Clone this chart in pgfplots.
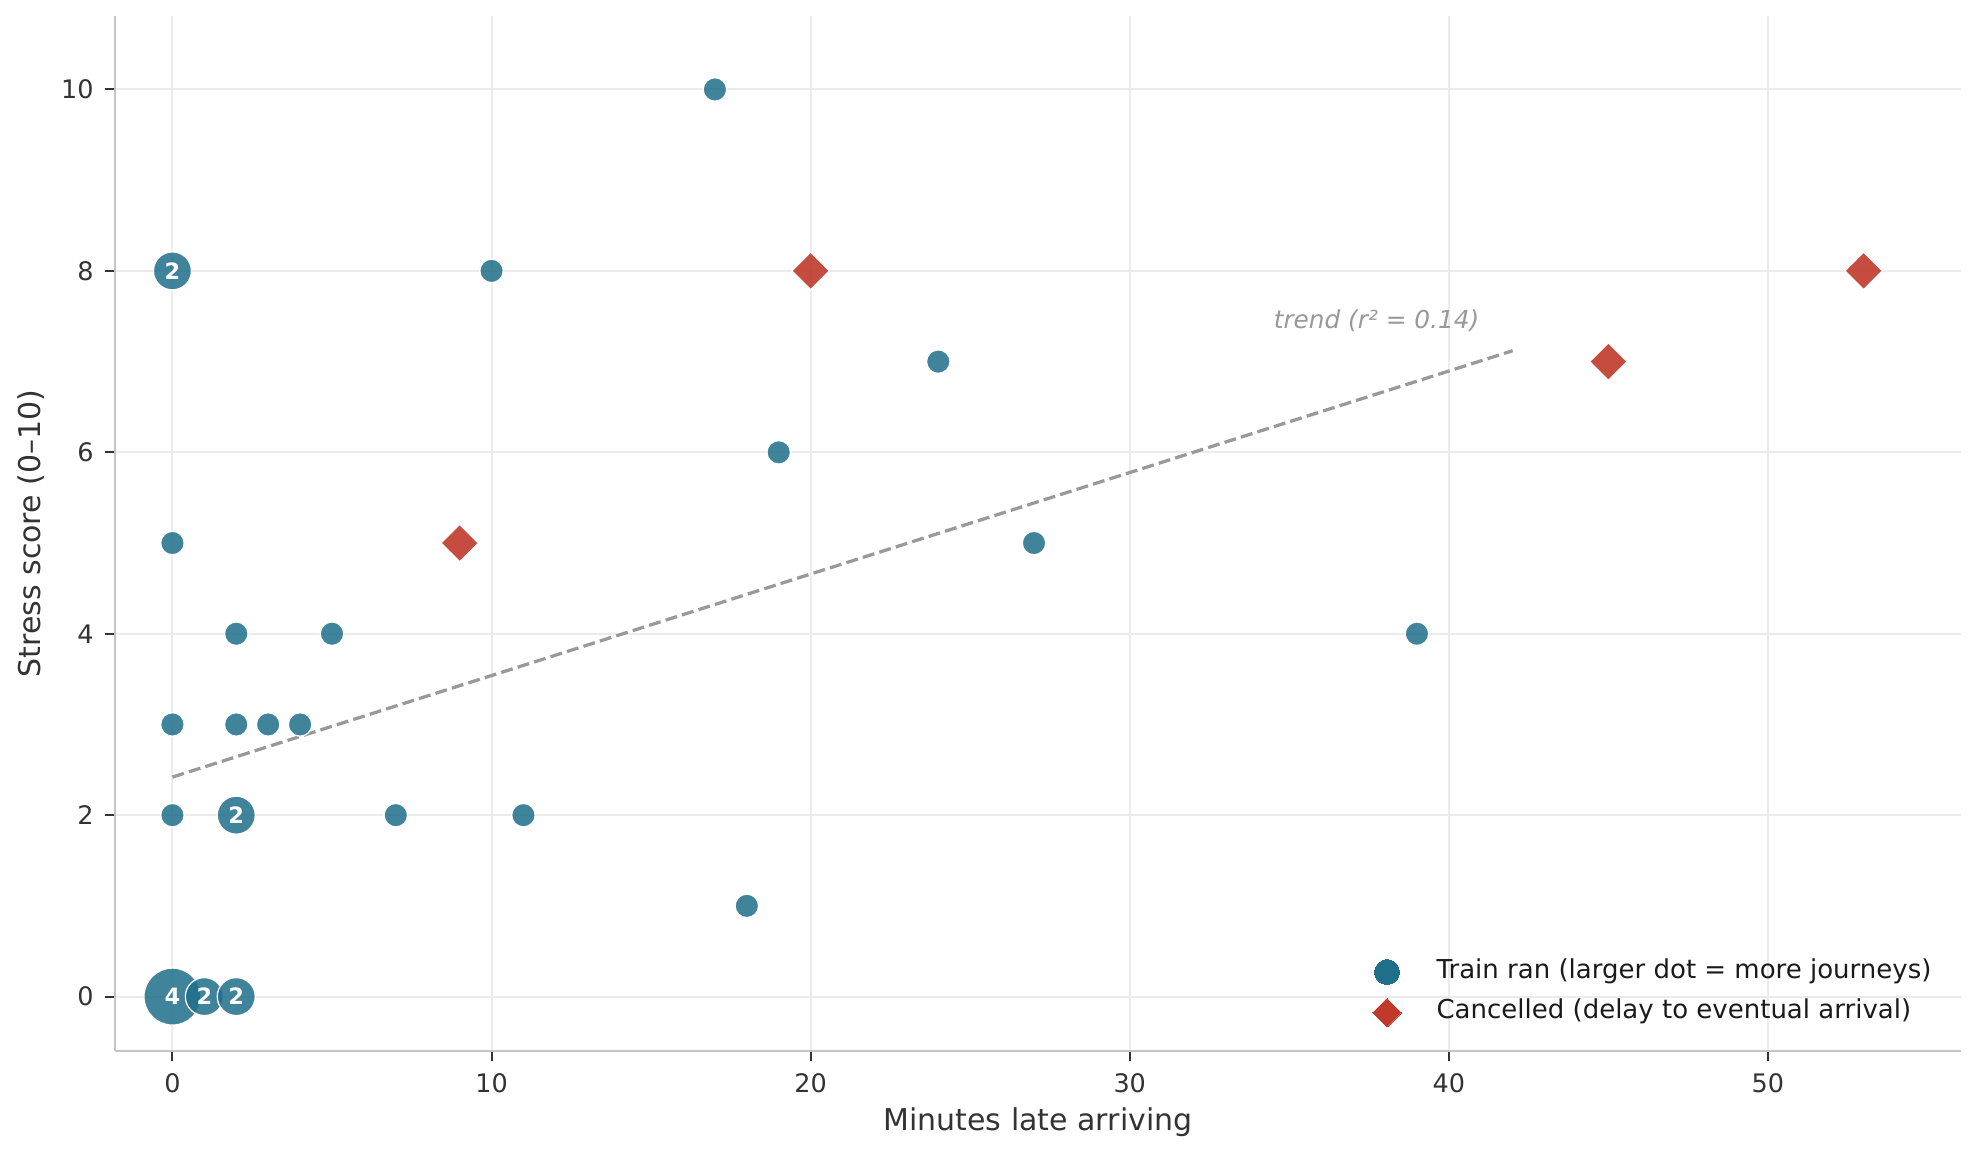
\documentclass[border=0pt]{standalone}
\usepackage{fontspec}
\setmainfont{DejaVu Sans}
\usepackage{pgfplots}
\pgfplotsset{compat=1.18}
\definecolor{trainblue}{HTML}{1F6F8B}
\definecolor{cancred}{HTML}{C0392B}
\definecolor{gridgray}{HTML}{EBEBEB}
\definecolor{spinegray}{HTML}{C4C4C4}
\definecolor{txtgray}{HTML}{333333}
\definecolor{trendgray}{HTML}{999999}
\definecolor{legtxt}{HTML}{1A1A1A}

\begin{document}
\begin{tikzpicture}
\begin{axis}[
  at={(46pt,43.2pt)}, anchor=south west,
  scale only axis, width=738.4pt, height=414pt,
  xmin=-1.8, xmax=56.05, ymin=-0.6, ymax=10.81,
  axis x line*=bottom, axis y line*=left,
  axis line style={draw=spinegray, line width=1pt, -},
  xtick={0,10,20,30,40,50}, ytick={0,2,4,6,8,10},
  tick align=outside, tick style={draw=txtgray, line width=0.8pt},
  major tick length=4pt,
  grid=major, grid style={draw=gridgray, line width=0.8pt},
  ticklabel style={font=\fontsize{10.2}{12}\selectfont, text=txtgray},
  xticklabel style={yshift=-1.5pt},
  yticklabel style={xshift=-1pt},
  /pgf/number format/assume math mode=true,
  xlabel={Minutes late arriving}, ylabel={Stress score (0–10)},
  label style={font=\fontsize{12}{14}\selectfont, text=txtgray},
  xlabel style={at={(axis description cs:0.5,-0.0684)}, anchor=center},
  ylabel style={at={(axis description cs:-0.0452,0.5)}, anchor=center},
  legend image code/.code={\path (-8pt,0) (19.6pt,0); \draw[#1] plot coordinates {(0pt,0pt)};},
  legend style={at={(axis description cs:0.6777,0.0558)}, anchor=west, draw=none, fill=none,
    inner sep=0pt, row sep=5.5pt, column sep=0pt,
    font=\fontsize{10.4}{12.5}\selectfont, text=legtxt,
    nodes={inner sep=0pt, text height=7.5pt, text depth=2.5pt}},
  legend cell align=left,
]
% trend line
\addplot[forget plot, draw=trendgray, line width=1.3pt, dash pattern=on 4.8pt off 2.1pt] coordinates {(0,2.42) (42,7.12)};
% single journeys
\addplot[forget plot, only marks, mark=*, mark size=4.7pt,
  mark options={fill=trainblue, fill opacity=0.85, draw=white, line width=0.5pt}]
  coordinates {
  (0,2) (7,2) (11,2)
  (0,3) (2,3) (3,3) (4,3)
  (2,4) (5,4)
  (0,5)
  (10,8)
  (17,10)
  (19,6)
  (24,7)
  (27,5)
  (18,1)
  (39,4)
  };
% four journeys
\addplot[forget plot, only marks, mark=*, mark size=11.4pt,
  mark options={fill=trainblue, fill opacity=0.85, draw=white, line width=0.5pt}]
  coordinates {(0,0)};
% two journeys
\addplot[forget plot, only marks, mark=*, mark size=7.6pt,
  mark options={fill=trainblue, fill opacity=0.85, draw=white, line width=0.5pt}]
  coordinates {(1,0) (2,0) (2,2) (0,8)};
% count labels
\addplot[forget plot, only marks, mark=text, text mark={4}, text mark as node=true,
  text mark style={font=\fontsize{9}{10}\selectfont\bfseries, text=white, inner sep=0pt, anchor=center}]
  coordinates {(0,0)};
\addplot[forget plot, only marks, mark=text, text mark={2}, text mark as node=true,
  text mark style={font=\fontsize{9}{10}\selectfont\bfseries, text=white, inner sep=0pt, anchor=center}]
  coordinates {(1,0) (2,0) (2,2) (0,8)};
% cancelled
\addplot[forget plot, only marks, mark=square*, mark size=5.3pt,
  mark options={rotate=45, fill=cancred, fill opacity=0.9, draw=white, line width=0.5pt}]
  coordinates {(9,5) (20,8) (45,7) (53,8)};
% legend
\addlegendimage{only marks, mark=*, mark size=5pt, mark options={fill=trainblue, draw=trainblue, line width=0pt}}
\addlegendentry{Train ran (larger dot = more journeys)}
\addlegendimage{only marks, mark=square*, mark size=4.05pt, mark options={rotate=45, fill=cancred, draw=cancred, line width=0pt}}
\addlegendentry{Cancelled (delay to eventual arrival)}
\node[anchor=west, inner sep=0pt, font=\fontsize{9.9}{12}\selectfont\itshape, text=trendgray]
  at (axis cs:34.5,7.455) {trend (r² = 0.14)};
\end{axis}
\pgfresetboundingbox
\useasboundingbox (0,0) rectangle (791.6pt,463.6pt);
\end{tikzpicture}
\end{document}
